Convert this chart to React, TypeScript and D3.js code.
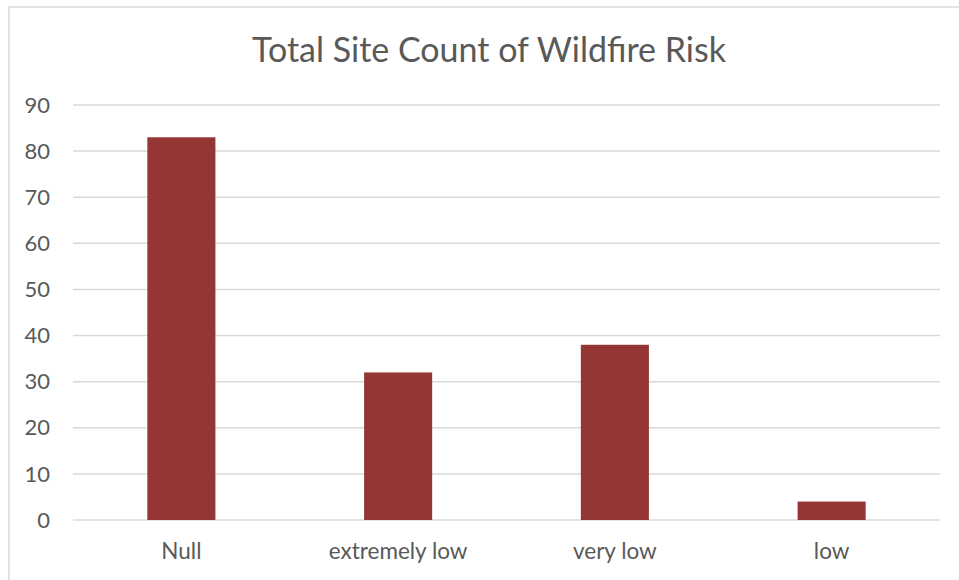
import React from "react";
import * as d3 from "d3";

// Site counts per wildfire risk class
const categories: string[] = ["Null", "extremely low", "very low", "low"];
const siteCounts: number[] = [83, 32, 38, 4];
const yTicks: number[] = [0, 10, 20, 30, 40, 50, 60, 70, 80, 90];
const chartTitle = "Total Site Count of Wildfire Risk";

const W = 959;
const H = 580;
const plot = { left: 73, right: 940, top: 105, bottom: 520 };

const BAR_COLOR = "#943634";
const TEXT_COLOR = "#595959";
const GRID_COLOR = "#d9d9d9";
const FONT = "Lato, 'Open Sans', sans-serif";

export default function App() {
  const x = d3
    .scaleBand<string>()
    .domain(categories)
    .range([plot.left, plot.right])
    .paddingInner(0.686)
    .paddingOuter(0.343);

  const y = d3.scaleLinear().domain([0, 90]).range([plot.bottom, plot.top]);

  const band = (plot.right - plot.left) / categories.length;

  return (
    <svg
      width={W}
      height={H}
      viewBox={`0 0 ${W} ${H}`}
      style={{ position: "absolute", left: 0, top: 0, background: "#fff" }}
    >
      {/* chart frame */}
      <rect
        x={9}
        y={7}
        width={W + 20}
        height={H + 20}
        fill="#fff"
        stroke={GRID_COLOR}
        strokeWidth={1.5}
      />

      <text
        x={489}
        y={62}
        textAnchor="middle"
        fontFamily={FONT}
        fontSize={34}
        fill={TEXT_COLOR}
      >
        {chartTitle}
      </text>

      {/* horizontal gridlines and value labels */}
      {yTicks.map((t) => (
        <g key={t}>
          <line
            x1={plot.left}
            x2={plot.right}
            y1={y(t)}
            y2={y(t)}
            stroke={GRID_COLOR}
            strokeWidth={1.5}
          />
          <text
            x={50}
            y={y(t)}
            dy="0.35em"
            textAnchor="end"
            fontFamily={FONT}
            fontSize={22}
            fill={TEXT_COLOR}
          >
            {t}
          </text>
        </g>
      ))}

      {/* bars */}
      {categories.map((c, i) => (
        <rect
          key={c}
          x={x(c)}
          y={y(siteCounts[i])}
          width={x.bandwidth()}
          height={y(0) - y(siteCounts[i])}
          fill={BAR_COLOR}
        />
      ))}

      {/* category labels */}
      {categories.map((c, i) => (
        <text
          key={c}
          x={plot.left + band * (i + 0.5)}
          y={559}
          textAnchor="middle"
          fontFamily={FONT}
          fontSize={22.5}
          fill={TEXT_COLOR}
        >
          {c}
        </text>
      ))}
    </svg>
  );
}
